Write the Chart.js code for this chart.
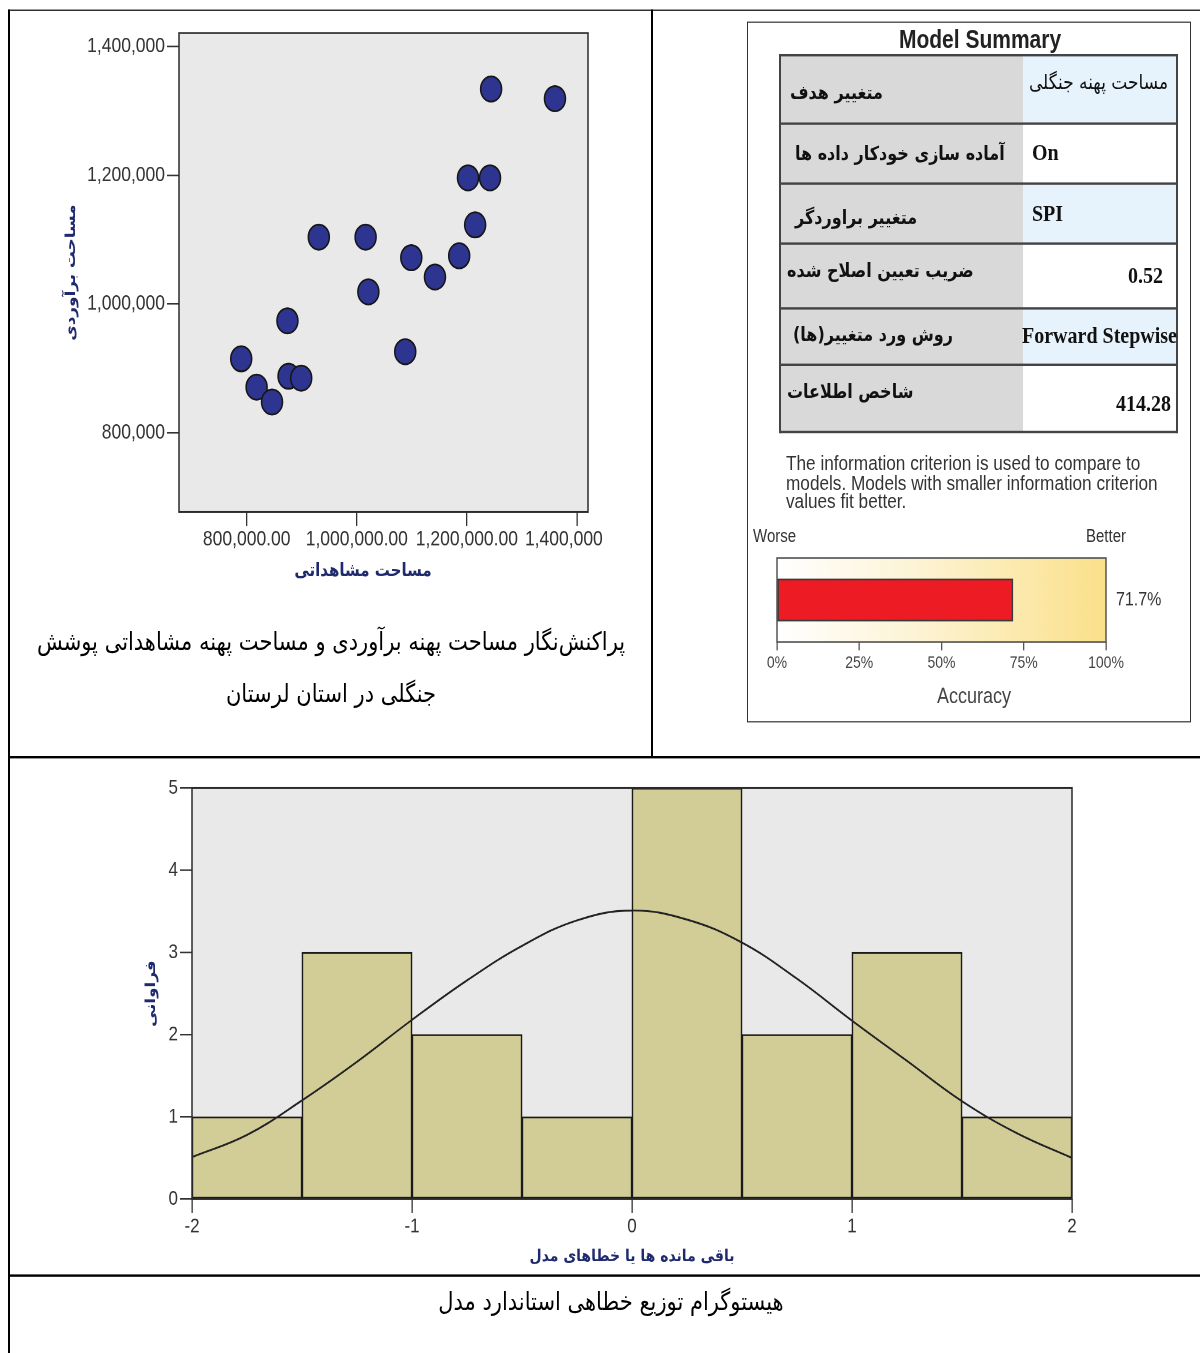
<!DOCTYPE html>
<html><head><meta charset="utf-8">
<script src="https://cdn.jsdelivr.net/npm/chart.js@4.4.0/dist/chart.umd.min.js"></script>
<style>
html,body{margin:0;padding:0;background:#fff;width:1200px;height:1353px;overflow:hidden;}
#page{position:absolute;left:0;top:0;width:1200px;height:1127.5px;transform:scaleY(1.2);transform-origin:0 0;font-family:"Liberation Sans",Arial,sans-serif;}
.hl{position:absolute;background:#000;height:1.8px;}
.vl{position:absolute;background:#000;width:2px;}
.t{position:absolute;white-space:nowrap;transform:translateY(-50%);}
.fa{font-family:"DejaVu Sans",sans-serif;direction:rtl;}
canvas{position:absolute;}
</style></head><body>
<div id="page">
  <!-- table frame -->
  <div class="vl" style="left:8px;top:7.5px;height:1125px"></div>
  <div class="hl" style="left:8px;top:7.5px;width:1192px"></div>
  <div class="vl" style="left:651px;top:7.5px;height:623px"></div>
  <div class="hl" style="left:8px;top:629.8px;width:1192px"></div>
  <div class="hl" style="left:8px;top:1062.3px;width:1192px"></div>

  <canvas id="scatter" width="686" height="500" style="left:20px;top:0px;width:686px;height:500px"></canvas>
  <div class="t fa" style="left:10px;width:642px;text-align:center;top:535px;font-size:21px;color:#000">پراکنش‌نگار مساحت پهنه برآوردی و مساحت پهنه مشاهداتی پوشش</div>
  <div class="t fa" style="left:10px;width:642px;text-align:center;top:578.3px;font-size:21px;color:#000">جنگلی در استان لرستان</div>

  <!-- model summary -->
  <div style="position:absolute;left:747px;top:18.3px;width:444px;height:583.4px;border:1.5px solid #333;box-sizing:border-box"></div>
  <div class="t" style="left:870px;width:220px;text-align:center;top:33.3px;font-size:21px;font-weight:bold;color:#222">Model Summary</div>
  <div id="tbl"></div>
  <div style="position:absolute;left:786px;top:378.8px;font-size:17.2px;line-height:15.8px;color:#333;white-space:nowrap">The information criterion is used to compare to<br>models. Models with smaller information criterion<br>values fit better.</div>
  <div class="t" style="left:753px;top:445.8px;font-size:15px;color:#333">Worse</div>
  <div class="t" style="left:1086px;top:445.8px;font-size:15px;color:#333">Better</div>
  <canvas id="acc" width="428" height="140" style="left:760px;top:455px;width:428px;height:140px"></canvas>

  <canvas id="hist" width="1000" height="420" style="left:100px;top:640px;width:1000px;height:420px"></canvas>
  <div class="t fa" style="left:311px;width:600px;text-align:center;top:1085px;font-size:21px;color:#000">هیستوگرام توزیع خطاهی استاندارد مدل</div>
</div>
<script>
// ---------- data ----------
const observedArea = [790000, 818000, 846000, 874000, 876000, 899000, 931000, 1016000, 1021000, 1088000, 1099000, 1142000, 1186000, 1202000, 1215000, 1242000, 1244000, 1360000];
const estimatedArea = [915000, 871000, 848000, 974000, 888000, 885000, 1104000, 1104000, 1019000, 926000, 1072000, 1042000, 1075000, 1196000, 1123000, 1196000, 1334000, 1319000];
const scatterXTicks = [800000, 1000000, 1200000, 1400000];
const scatterXTickLabels = ['800,000.00', '1,000,000.00', '1,200,000.00', '1,400,000'];
const scatterYTicks = [800000, 1000000, 1200000, 1400000];
const scatterYTickLabels = ['800,000', '1,000,000', '1,200,000', '1,400,000'];

const binCenters = [-1.75, -1.25, -0.75, -0.25, 0.25, 0.75, 1.25, 1.75];
const binCounts = [1, 3, 2, 1, 5, 2, 3, 1];
const curveX = [-2, -1.75, -1.5, -1.25, -1, -0.75, -0.5, -0.25, 0, 0.25, 0.5, 0.75, 1, 1.25, 1.5, 1.75, 2];
const curveY = [0.51, 0.78, 1.2, 1.67, 2.18, 2.66, 3.08, 3.39, 3.51, 3.40, 3.12, 2.68, 2.17, 1.68, 1.19, 0.80, 0.50];
const histXTicks = [-2, -1, 0, 1, 2];
const histXTickLabels = ['-2', '-1', '0', '1', '2'];
const histYTicks = [0, 1, 2, 3, 4, 5];

const accuracyValue = 71.7;
const accuracyTicks = [0, 25, 50, 75, 100];

const summaryLabels = ['متغییر هدف', 'آماده سازی خودکار داده ها', 'متغییر براوردگر', 'ضریب تعیین اصلاح شده', 'روش ورد متغییر(ها)', 'شاخص اطلاعات'];
const summaryValues = ['مساحت پهنه جنگلی', 'On', 'SPI', '0.52', 'Forward Stepwise', '414.28'];

// ---------- table ----------
(function(){
  const rows = [45.8, 102.5, 152.5, 202.5, 256.7, 304.2, 360];
  const leftY = [76.7, 127.5, 180.8, 225, 279.2, 325.8];
  const rightY = [68.3, 126.7, 177.5, 229.2, 279.2, 335.8];
  const leftX = [790, 795, 795, 787, 793, 787];
  const rightPos = [{r:1168, fa:true}, {l:1032}, {l:1032}, {r:1163}, {l:1022}, {r:1171}];
  let h = '';
  for (let i = 0; i < 6; i++) {
    const top = rows[i], ht = rows[i+1] - rows[i];
    h += `<div style="position:absolute;left:780px;top:${top}px;width:243px;height:${ht}px;background:#d9d9d9"></div>`;
    h += `<div style="position:absolute;left:1023px;top:${top}px;width:154px;height:${ht}px;background:${i%2===0?'#e7f3fc':'#fff'}"></div>`;
  }
  for (let i = 0; i < 7; i++) {
    h += `<div style="position:absolute;left:780px;top:${rows[i]-1}px;width:397px;height:2px;background:#444"></div>`;
  }
  h += `<div style="position:absolute;left:779px;top:${rows[0]-1}px;width:2px;height:${rows[6]-rows[0]+2}px;background:#444"></div>`;
  h += `<div style="position:absolute;left:1176px;top:${rows[0]-1}px;width:2px;height:${rows[6]-rows[0]+2}px;background:#444"></div>`;
  for (let i = 0; i < 6; i++) {
    h += `<div class="t fa" style="left:${leftX[i]}px;top:${leftY[i]}px;font-size:16px;font-weight:bold;color:#111">${summaryLabels[i]}</div>`;
    const p = rightPos[i];
    const pos = p.r !== undefined ? `right:${1200-p.r}px` : `left:${p.l}px`;
    if (p.fa) {
      h += `<div class="t fa" style="${pos};top:${rightY[i]}px;font-size:17px;color:#111">${summaryValues[i]}</div>`;
    } else {
      h += `<div class="t" style="${pos};top:${rightY[i]}px;font-family:'Liberation Serif',serif;font-size:20px;font-weight:bold;color:#111">${summaryValues[i]}</div>`;
    }
  }
  document.getElementById('tbl').innerHTML = h;
})();

// ---------- helpers ----------
Chart.defaults.font.family = '"Liberation Sans", Arial, sans-serif';
const framePlugin = (bg, stroke, lw) => ({
  id: 'frame',
  beforeDatasetsDraw(chart) {
    const {ctx, chartArea: a} = chart;
    ctx.save();
    if (typeof bg === 'function') ctx.fillStyle = bg(ctx, a); else ctx.fillStyle = bg;
    ctx.fillRect(a.left, a.top, a.width, a.height);
    ctx.restore();
  },
  afterDraw(chart) {
    const {ctx, chartArea: a} = chart;
    ctx.save();
    ctx.strokeStyle = stroke; ctx.lineWidth = lw;
    ctx.strokeRect(a.left, a.top, a.width, a.height);
    ctx.restore();
  }
});
const fixTicks = (vals) => (scale) => { scale.ticks = vals.map(v => ({value: v})); };
const tickGrid = (len) => ({display: true, drawOnChartArea: false, drawTicks: true, tickLength: len, color: '#333', lineWidth: 1.3});
const titleColor = '#1f2a6e';
const spacerAxis = (pos, w) => ({type: 'linear', position: pos, display: true, min: 0, max: 1,
  ticks: {display: false}, grid: {display: false}, border: {display: false}, afterFit: s => { s.width = w; }});

// ---------- scatter ----------
new Chart(document.getElementById('scatter'), {
  type: 'scatter',
  data: {datasets: [{
    data: observedArea.map((x, i) => ({x, y: estimatedArea[i]})),
    backgroundColor: '#2d3590', borderColor: '#161616', borderWidth: 1.5,
    pointRadius: 10.5, pointHoverRadius: 10.5, xAxisID: 'x', yAxisID: 'y'
  }]},
  options: {
    responsive: false, animation: false, devicePixelRatio: 2,
    layout: {padding: {top: 27.5, right: 0, left: 0, bottom: 0}},
    plugins: {legend: {display: false}, tooltip: {enabled: false},
      title: {display: true, position: 'bottom', text: 'مساحت مشاهداتی', color: titleColor,
        font: {family: '"DejaVu Sans"', size: 15, weight: 'bold'}, padding: {top: 0, bottom: 15}}},
    scales: {
      x: {
        type: 'linear', min: 677000, max: 1420000,
        afterBuildTicks: fixTicks(scatterXTicks),
        afterFit: s => { s.height = 40.3; },
        grid: tickGrid(11.7), border: {display: false},
        ticks: {autoSkip: false, maxRotation: 0, minRotation: 0, padding: 1, color: '#333', font: {size: 17.5},
          callback: (v) => {
            const i = scatterXTicks.indexOf(v);
            return i === scatterXTicks.length - 1 ? scatterXTickLabels[i] + '\u2002\u2002\u2002' : scatterXTickLabels[i];
          }}
      },
      y: {
        type: 'linear', min: 677000, max: 1421000,
        afterBuildTicks: fixTicks(scatterYTicks),
        afterFit: s => { s.width = 159; },
        grid: tickGrid(12), border: {display: false},
        ticks: {autoSkip: false, padding: 2, color: '#333', font: {size: 17.5},
          callback: (v) => scatterYTickLabels[scatterYTicks.indexOf(v)]},
        title: {display: true, text: 'مساحت برآوردی', color: titleColor, font: {family: '"DejaVu Sans"', size: 14, weight: 'bold'}, padding: {top: 43, bottom: 0}}
      },
      yRight: spacerAxis('right', 118)
    }
  },
  plugins: [framePlugin('#e9e9e9', '#2a2a2a', 1.5)]
});

// ---------- accuracy ----------
new Chart(document.getElementById('acc'), {
  type: 'bar',
  data: {labels: ['Accuracy'], datasets: [{
    data: [accuracyValue], backgroundColor: '#ed1c24', borderColor: '#3a3a3a', borderWidth: 1.5,
    borderSkipped: false, barThickness: 35, yAxisID: 'y'
  }]},
  options: {
    indexAxis: 'y', responsive: false, animation: false, devicePixelRatio: 2,
    layout: {padding: {top: 10, right: 0, left: 0, bottom: 0}},
    plugins: {legend: {display: false}, tooltip: {enabled: false},
      title: {display: true, position: 'bottom', text: 'Accuracy', color: '#444', font: {size: 18, weight: 'normal'}, padding: {top: 0, bottom: 3}}},
    scales: {
      x: {
        min: 0, max: 100,
        afterBuildTicks: fixTicks(accuracyTicks),
        afterFit: s => { s.height = 35.4; },
        grid: {display: true, drawOnChartArea: false, drawTicks: true, tickLength: 7, color: '#555', lineWidth: 1.3},
        border: {display: false},
        ticks: {autoSkip: false, maxRotation: 0, padding: 2, color: '#444', font: {size: 14}, callback: v => v + '%'}
      },
      y: {type: 'category', position: 'left', display: true, ticks: {display: false}, grid: {display: false},
          border: {display: false}, afterFit: s => { s.width = 17; }},
      yRight: spacerAxis('right', 82)
    }
  },
  plugins: [framePlugin((ctx, a) => {
      const g = ctx.createLinearGradient(a.left, 0, a.right, 0);
      g.addColorStop(0, '#ffffff');
      g.addColorStop(0.45, '#fdf3d2');
      g.addColorStop(1, '#fbe08a');
      return g;
    }, '#555', 1.5),
    {id: 'valueLabel', afterDraw(chart) {
      const {ctx, chartArea: a} = chart;
      const bar = chart.getDatasetMeta(0).data[0];
      ctx.save();
      ctx.fillStyle = '#333'; ctx.font = '16px "Liberation Sans"';
      ctx.textBaseline = 'middle'; ctx.textAlign = 'left';
      ctx.fillText(chart.data.datasets[0].data[0].toFixed(1) + '%', a.right + 10, bar.y);
      ctx.restore();
    }}]
});

// ---------- histogram ----------
new Chart(document.getElementById('hist'), {
  type: 'bar',
  data: {datasets: [
    {type: 'line', order: 0, data: curveX.map((x, i) => ({x, y: curveY[i]})),
     borderColor: '#222', borderWidth: 1.6, pointRadius: 0, fill: false, tension: 0.4},
    {type: 'bar', order: 1, data: binCenters.map((x, i) => ({x, y: binCounts[i]})),
     backgroundColor: '#d2cd97', borderColor: '#1a1a1a', borderWidth: 1.5, borderSkipped: false,
     barPercentage: 1, categoryPercentage: 1}
  ]},
  options: {
    responsive: false, animation: false, devicePixelRatio: 2,
    layout: {padding: {top: 16.7, right: 28, left: 0, bottom: 0}},
    plugins: {legend: {display: false}, tooltip: {enabled: false}},
    scales: {
      x: {
        type: 'linear', min: -2, max: 2, offset: false,
        afterBuildTicks: fixTicks(histXTicks),
        afterFit: s => { s.height = 60.8; },
        grid: Object.assign(tickGrid(11.7), {offset: false}), border: {display: false},
        ticks: {autoSkip: false, maxRotation: 0, padding: 1, color: '#333', font: {size: 17},
          callback: v => histXTickLabels[histXTicks.indexOf(v)]},
        title: {display: true, text: 'باقی مانده ها یا خطاهای مدل', color: titleColor, font: {family: '"DejaVu Sans"', size: 14, weight: 'bold'}, padding: {top: 0, bottom: 4.3}}
      },
      y: {
        type: 'linear', min: 0, max: 5,
        afterBuildTicks: fixTicks(histYTicks),
        afterFit: s => { s.width = 92; },
        grid: tickGrid(12), border: {display: false},
        ticks: {autoSkip: false, padding: 2, color: '#333', font: {size: 17}},
        title: {display: true, text: 'فراوانی', color: titleColor, font: {family: '"DejaVu Sans"', size: 14, weight: 'bold'}, padding: {top: 43, bottom: 0}}
      }
    }
  },
  plugins: [framePlugin('#e9e9e9', '#2a2a2a', 1.5)]
});
</script>
</body></html>
